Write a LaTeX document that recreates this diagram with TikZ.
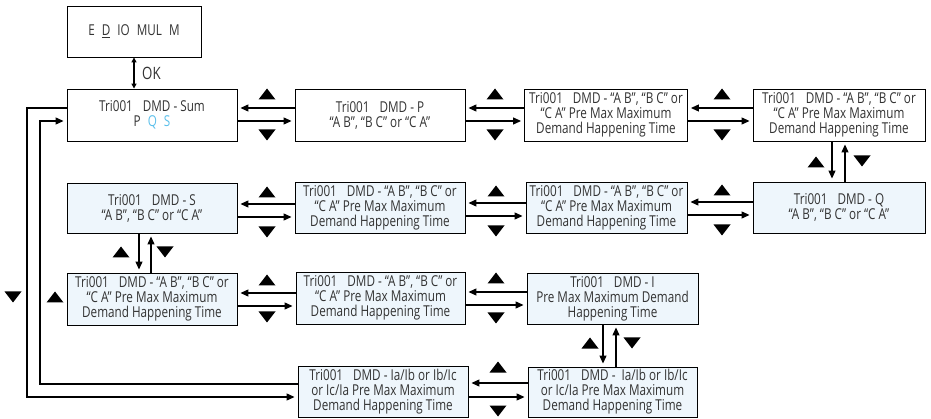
\documentclass[tikz,border=0pt]{standalone}
\usepackage{fontspec}
\setmainfont{Open Sans}[FakeStretch=0.78]
\usetikzlibrary{arrows.meta}
\definecolor{boxblue}{HTML}{EEF6FC}
\definecolor{qscol}{HTML}{5BC0EB}
\definecolor{txtcol}{HTML}{333333}
\newcommand\triup[2]{\fill (#1,#2) ++(-8.5,5.5) -- ++(17,0) -- ++(-8.5,-11) -- cycle;}
\newcommand\tridn[2]{\fill (#1,#2) ++(-8.5,-5.5) -- ++(17,0) -- ++(-8.5,11) -- cycle;}
\newcommand\gapsp{\hspace{7pt}}
\newcommand\trisp{\hspace{10pt}}
\tikzset{
  panel/.style={draw=black, line width=0.9pt, minimum width=#1, minimum height=51pt,
    inner sep=0pt, align=center, font=\fontsize{15}{15}\selectfont, text=txtcol},
  wpanel/.style={panel=#1, fill=white},
  bpanel/.style={panel=#1, fill=boxblue},
  conn/.style={line width=1.2pt, -{Triangle[length=8pt,width=7pt]}, shorten >=3pt},
  okconn/.style={line width=1.2pt, {Triangle[length=5pt,width=5pt]}-{Triangle[length=5pt,width=5pt]}},
}
\begin{document}
\begin{tikzpicture}[x=1pt,y=-1pt]
\useasboundingbox (0,0) rectangle (931,419);
% nodes
\node[wpanel=134pt] (top) at (134,31.5) {E\gapsp\underline{D}\gapsp IO\gapsp MUL\gapsp M};
\node[wpanel=170pt, minimum height=52pt] (r1a) at (152,115) {Tri001\trisp DMD - Sum\\P\gapsp\textcolor{qscol}{Q}\gapsp\textcolor{qscol}{S}};
\node[wpanel=170pt, minimum height=52pt] (r1b) at (380,115) {Tri001\trisp DMD - P\\“A B”, “B C” or “C A”};
\node[wpanel=163pt, minimum height=52pt] (r1c) at (606,115) {Tri001\trisp DMD - “A B”, “B C” or\\“C A” Pre Max Maximum\\Demand Happening Time};
\node[wpanel=172pt, minimum height=52pt] (r1d) at (839,115) {Tri001\trisp DMD - “A B”, “B C” or\\“C A” Pre Max Maximum\\Demand Happening Time};
\node[bpanel=172pt] (r2d) at (839,207.5) {Tri001\trisp DMD - Q\\“A B”, “B C” or “C A”};
\node[bpanel=161pt] (r2c) at (606.5,207.5) {Tri001\trisp DMD - “A B”, “B C” or\\“C A” Pre Max Maximum\\Demand Happening Time};
\node[bpanel=170pt] (r2b) at (380,207.5) {Tri001\trisp DMD - “A B”, “B C” or\\“C A” Pre Max Maximum\\Demand Happening Time};
\node[bpanel=170pt, minimum height=50pt] (r2a) at (152,208) {Tri001\trisp DMD - S\\“A B”, “B C” or “C A”};
\node[bpanel=170pt, minimum height=52pt] (r3a) at (152,299) {Tri001\trisp DMD - “A B”, “B C” or\\“C A” Pre Max Maximum\\Demand Happening Time};
\node[bpanel=169pt, minimum height=52pt] (r3b) at (380.5,298) {Tri001\trisp DMD - “A B”, “B C” or\\“C A” Pre Max Maximum\\Demand Happening Time};
\node[bpanel=171pt] (r3c) at (612.5,298.5) {Tri001\trisp DMD - I\\Pre Max Maximum Demand\\Happening Time};
\node[bpanel=169pt, minimum height=50pt] (r4b) at (612.5,392) {Tri001\trisp DMD - \ Ia/Ib or Ib/Ic\\or Ic/Ia Pre Max Maximum\\Demand Happening Time};
\node[bpanel=170pt] (r4a) at (383,391.5) {Tri001\trisp DMD - Ia/Ib or Ib/Ic\\or Ic/Ia Pre Max Maximum\\Demand Happening Time};
% OK
\draw[okconn] (top.south) -- (r1a.north -| top.south);
\node[font=\fontsize{17}{18}\selectfont, text=txtcol, anchor=west, inner sep=0pt] (ok) at (142,73) {OK};
% row 1
\draw[conn] (r1b.west |- 0,108) -- (r1a.east |- 0,108);
\draw[conn] (r1a.east |- 0,121) -- (r1b.west |- 0,121);
\draw[conn] (r1c.west |- 0,108) -- (r1b.east |- 0,108);
\draw[conn] (r1b.east |- 0,121) -- (r1c.west |- 0,121);
\draw[conn] (r1d.west |- 0,108) -- (r1c.east |- 0,108);
\draw[conn] (r1c.east |- 0,121) -- (r1d.west |- 0,121);
\triup{267}{94}\tridn{267}{135}
\triup{495}{94}\tridn{495}{135}
\triup{722}{94}\tridn{722}{135}
% r1d - r2d
\draw[conn] (r1d.south -| 832,0) -- (r2d.north -| 832,0);
\draw[conn] (r2d.north -| 845,0) -- (r1d.south -| 845,0);
\triup{816}{162}\tridn{862}{161}
% row 2
\draw[conn] (r2b.west |- 0,204) -- (r2a.east |- 0,204);
\draw[conn] (r2a.east |- 0,217) -- (r2b.west |- 0,217);
\draw[conn] (r2c.west |- 0,203) -- (r2b.east |- 0,203);
\draw[conn] (r2b.east |- 0,216) -- (r2c.west |- 0,216);
\draw[conn] (r2d.west |- 0,202) -- (r2c.east |- 0,202);
\draw[conn] (r2c.east |- 0,215) -- (r2d.west |- 0,215);
\triup{267}{192}\tridn{267}{232}
\triup{496}{191}\tridn{496}{231}
\triup{722}{190}\tridn{722}{230}
% r2a - r3a
\draw[conn] (r2a.south -| 139,0) -- (r3a.north -| 139,0);
\draw[conn] (r3a.north -| 151,0) -- (r2a.south -| 151,0);
\triup{121}{252}\tridn{165}{252}
% row 3
\draw[conn] (r3b.west |- 0,293) -- (r3a.east |- 0,293);
\draw[conn] (r3a.east |- 0,306) -- (r3b.west |- 0,306);
\draw[conn] (r3c.west |- 0,292) -- (r3b.east |- 0,292);
\draw[conn] (r3b.east |- 0,305) -- (r3c.west |- 0,305);
\triup{267}{280}\tridn{267}{317}
\triup{496}{278}\tridn{496}{318}
% r3c - r4b
\draw[conn] (r3c.south -| 603,0) -- (r4b.north -| 603,0);
\draw[conn] (r4b.north -| 616,0) -- (r3c.south -| 616,0);
\triup{590}{343}\tridn{632}{343}
% row 4
\draw[conn] (r4b.west |- 0,383) -- (r4a.east |- 0,383);
\draw[conn] (r4a.east |- 0,397) -- (r4b.west |- 0,397);
\triup{498}{367}\tridn{498}{411}
% left loops
\draw[conn] (r1a.west |- 0,108) -| (27,397) -- (r4a.west |- 0,397);
\draw[conn] (r4a.west |- 0,384) -| (40,121) -- (r1a.west |- 0,121);
\tridn{13}{297}\triup{55}{297}
\end{tikzpicture}
\end{document}
